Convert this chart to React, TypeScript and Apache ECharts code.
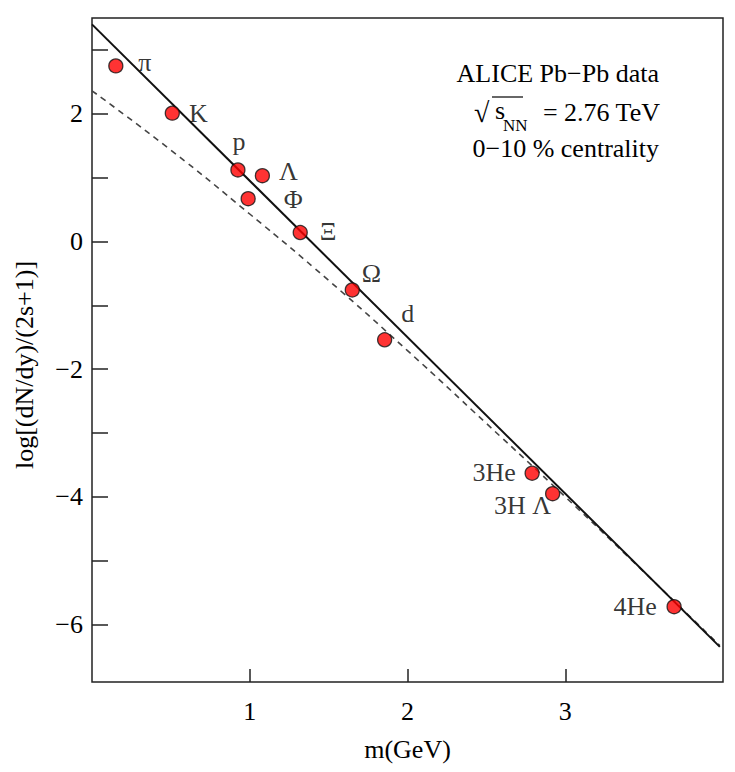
import React, { useEffect, useRef } from "react";
import * as echarts from "echarts";

const particles = ["π", "K", "p", "Λ", "Φ", "Ξ", "Ω", "d", "3He", "3H Λ", "4He"];
const masses = [0.151, 0.509, 0.925, 1.08, 0.99, 1.32, 1.65, 1.855, 2.79, 2.92, 3.69];
const yields = [2.75, 2.01, 1.12, 1.03, 0.67, 0.14, -0.76, -1.54, -3.63, -3.95, -5.72];

const fitX = [0, 3.98];
const fitY = [3.4, -6.35];

const dashX = [0, 0.5, 1, 1.5, 2, 2.5, 3, 3.5, 3.98];
const dashY = [2.36, 1.43, 0.43, -0.61, -1.71, -2.85, -4.0, -5.18, -6.33];

const yTickValues = [-6, -5, -4, -3, -2, -1, 0, 1, 2, 3];
const yLabelValues = [-6, -4, -2, 0, 2];
const xTickValues = [1, 2, 3];

const labelOffsets: number[][] = [
  [29, -3], [26, 0], [1, -28], [26, -4], [45, 1], [28, -1],
  [19, -16], [23, -26], [-38, -1], [-30, 12], [-39, 0],
];

const FONT = "Liberation Serif";
const FS = 26;

export default function App() {
  const ref = useRef<HTMLDivElement>(null);
  useEffect(() => {
    if (!ref.current) return;
    const chart = echarts.init(ref.current, undefined, { renderer: "svg" });
    const fmt = (v: number) => (v < 0 ? "\u2212" + Math.abs(v) : String(v));
    chart.setOption({
      animation: false,
      grid: {
        left: 92, top: 18, right: 12, bottom: 90,
        show: true, borderColor: "#222", borderWidth: 1.5, backgroundColor: "transparent",
      },
      xAxis: {
        type: "value", min: 0, max: 4,
        name: "m(GeV)", nameLocation: "middle", nameGap: 54,
        nameTextStyle: { fontFamily: FONT, fontSize: FS, color: "#000" },
        axisLine: { show: false, onZero: false },
        splitLine: { show: false },
        axisTick: { show: true, inside: true, length: 13, customValues: xTickValues, lineStyle: { color: "#222", width: 1.5 } },
        axisLabel: { customValues: xTickValues, margin: 16, fontFamily: FONT, fontSize: FS, color: "#000" },
      },
      yAxis: {
        type: "value", min: -6.9, max: 3.5,
        axisLine: { show: false, onZero: false },
        splitLine: { show: false },
        axisTick: { show: true, inside: true, length: 16, customValues: yTickValues, lineStyle: { color: "#222", width: 1.5 } },
        axisLabel: { customValues: yLabelValues, margin: 9, fontFamily: FONT, fontSize: FS, color: "#000", formatter: fmt },
      },
      series: [
        {
          type: "line", data: dashX.map((x, i) => [x, dashY[i]]), smooth: true, symbol: "none",
          lineStyle: { color: "#444", width: 1.6, type: [6, 5] }, z: 2,
        },
        {
          type: "line", data: fitX.map((x, i) => [x, fitY[i]]), symbol: "none",
          lineStyle: { color: "#111", width: 2 }, z: 3,
        },
        {
          type: "scatter", symbolSize: 14, z: 5,
          itemStyle: { color: "#ff0000", borderColor: "#111", borderWidth: 1.3 },
          data: masses.map((m, i) => ({
            value: [m, yields[i]],
            name: particles[i],
            label: {
              show: true, formatter: particles[i],
              position: ["50%", "50%"], align: "center", verticalAlign: "middle",
              offset: labelOffsets[i], lineHeight: 20,
              fontFamily: FONT, fontSize: FS, color: "#000",
            },
          })),
        },
      ],
      graphic: [
        { type: "text", x: 24, y: 365, rotation: Math.PI / 2, style: { text: "log[(dN/dy)/(2s+1)]", font: `${FS}px "${FONT}"`, fill: "#000", align: "center", verticalAlign: "middle" } },
        { type: "text", x: 659, y: 73, style: { text: "ALICE Pb\u2212Pb data", font: `${FS}px "${FONT}"`, fill: "#000", align: "right", verticalAlign: "middle" } },
        { type: "text", x: 474, y: 112, style: { text: "\u221A", font: `28px "${FONT}"`, fill: "#000", align: "left", verticalAlign: "middle" } },
        { type: "line", shape: { x1: 492, y1: 97, x2: 523, y2: 97 }, style: { stroke: "#000", lineWidth: 1.2 } },
        { type: "text", x: 495, y: 110, style: { text: "s", font: `${FS}px "${FONT}"`, fill: "#000", align: "left", verticalAlign: "middle", lineHeight: 16 } },
        { type: "text", x: 503, y: 125, style: { text: "NN", font: `17px "${FONT}"`, fill: "#000", align: "left", verticalAlign: "middle", lineHeight: 12 } },
        { type: "text", x: 660, y: 112, style: { text: "= 2.76 TeV", font: `${FS}px "${FONT}"`, fill: "#000", align: "right", verticalAlign: "middle", lineHeight: 20 } },
        { type: "text", x: 659, y: 148, style: { text: "0\u221210 % centrality", font: `${FS}px "${FONT}"`, fill: "#000", align: "right", verticalAlign: "middle", lineHeight: 20 } },
      ],
    });
    return () => chart.dispose();
  }, []);
  return <div ref={ref} style={{ width: 735, height: 772, margin: -8 }} />;
}
